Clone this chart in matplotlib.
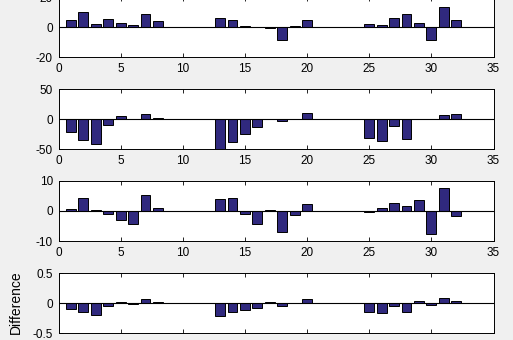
import numpy as np
import matplotlib
matplotlib.use("Agg")
import matplotlib.pyplot as plt

plt.rcParams['font.family'] = ['Liberation Sans', 'DejaVu Sans']

x = np.arange(1, 33)

# values (positions 9-12 and 21-24 are empty)
d1 = [4.7, 10, 2, 5.3, 2.7, 1.3, 8.7, 4, 0, 0, 0, 0,
      6, 4.7, 0.9, 0, -0.4, -8.7, 0.9, 4.7, 0, 0, 0, 0,
      2, 1.3, 6, 8.7, 2.7, -8.7, 13.3, 4.7]
d2 = [-20.5, -34, -41, -10, 5, 0, 9, 1.7, 0, 0, 0, 0,
      -50, -37.5, -24, -13.6, 1, -3.4, 0, 10, 0, 0, 0, 0,
      -30.7, -35.8, -12, -32.4, 1, 1, 6.8, 8.5]
d3 = [0.7, 4.3, 0.3, -1, -3, -4.3, 5.3, 1, 0, 0, 0, 0,
      4, 4.3, -1, -4.3, 0.3, -7, -1.3, 2.1, 0, 0, 0, 0,
      -0.3, 1, 2.7, 1.7, 3.7, -7.7, 7.7, -1.7]
d4 = [-0.1, -0.15, -0.2, -0.05, 0.015, -0.01, 0.067, 0.015, 0, 0, 0, 0,
      -0.217, -0.15, -0.117, -0.083, 0.015, -0.05, 0, 0.067, 0, 0, 0, 0,
      -0.15, -0.167, -0.05, -0.15, 0.033, -0.033, 0.083, 0.033]

series = [d1, d2, d3, d4]
ylims = [(-20, 20), (-50, 50), (-10, 10), (-0.5, 0.5)]
yticks = [[-20, 0, 20], [-50, 0, 50], [-10, 0, 10], [-0.5, 0, 0.5]]
yticklabels = [['-20', '0', '20'], ['-50', '0', '50'], ['-10', '0', '10'], ['-0.5', '0', '0.5']]

bg = '#f0f0f0'
barcol = '#30297e'

fig = plt.figure(figsize=(5.13, 3.40), dpi=100, facecolor=bg)

# axes boxes in pixels (top, bottom) measured from the top edge
boxes = [(-2.8, 57.3), (89.0, 149.4), (180.6, 241.0), (273.2, 333.3)]
W, H = 513.0, 340.0
left, right = 58.5, 493.5

for i, (vals, (top, bot)) in enumerate(zip(series, boxes)):
    ax = fig.add_axes([left / W, 1 - bot / H, (right - left) / W, (bot - top) / H])
    ax.set_facecolor('white')
    ax.bar(x, vals, width=0.8, color=barcol, edgecolor='black', linewidth=0.7, zorder=2)
    ax.axhline(0, color='black', linewidth=0.8, zorder=3)
    ax.set_xlim(0, 35)
    ax.set_ylim(*ylims[i])
    ax.set_xticks(np.arange(0, 36, 5))
    ax.set_yticks(yticks[i])
    ax.set_yticklabels(yticklabels[i])
    ax.tick_params(direction='in', length=3, width=0.6, top=True, right=True,
                   labelsize=8.5, colors='black', pad=4)
    for s in ax.spines.values():
        s.set_linewidth(0.7)
    if i == 3:
        # the x tick labels of the last panel fall below the cropped edge
        ax.tick_params(labelbottom=False)
        ax.set_ylabel('Difference', fontsize=10)
        ax.yaxis.set_label_coords(-0.082, 0.52)

fig.savefig('out.png', dpi=100, facecolor=bg)
